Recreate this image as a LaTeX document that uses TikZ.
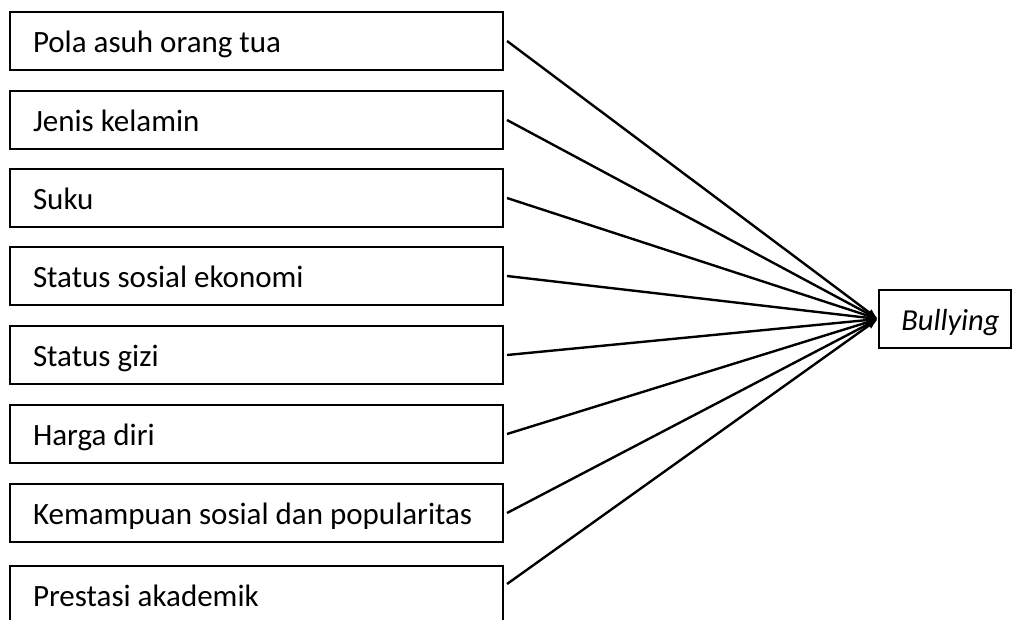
\documentclass[tikz,border=0pt]{standalone}
\usepackage{fontspec}
\setmainfont{Carlito}
\usetikzlibrary{arrows.meta}
\begin{document}
\begin{tikzpicture}[x=1pt,y=-1pt,
  factor/.style={draw=black,line width=2pt,anchor=north west,inner xsep=23pt,inner ysep=0pt,
    text width=447pt,align=flush left,minimum height=58pt,text height=22pt,text depth=0pt,
    font=\fontsize{31}{34}\selectfont},
  outcome/.style={draw=black,line width=2pt,inner sep=0pt,minimum width=132pt,minimum height=58pt,
    text height=22pt,text depth=0pt,font=\fontsize{30.5}{34}\selectfont\itshape},
  link/.style={line width=2.4pt,-{Latex[length=11pt,width=8pt]}}]
\useasboundingbox (0,0) rectangle (1012,619);
\node[factor] (f1) at (9,11) {Pola asuh orang tua};
\node[factor] (f2) at (9,90) {Jenis kelamin};
\node[factor] (f3) at (9,168) {Suku};
\node[factor] (f4) at (9,246) {Status sosial ekonomi};
\node[factor] (f5) at (9,325) {Status gizi};
\node[factor] (f6) at (9,404) {Harga diri};
\node[factor] (f7) at (9,483) {Kemampuan sosial dan popularitas};
\node[factor] (f8) at (9,565) {Prestasi akademik};
\node[outcome] (out) at (945,319) {\hspace*{11pt}Bullying};
\foreach \i in {1,...,7}{
  \draw[link] ([xshift=3pt]f\i.east) -- (out.west);
}
\draw[link] ([xshift=3pt,yshift=11pt]f8.east) -- (out.west);
\end{tikzpicture}
\end{document}
